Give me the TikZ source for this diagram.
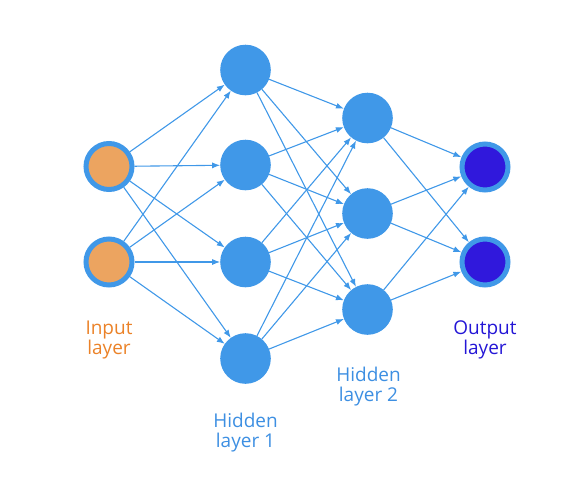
\documentclass[tikz,border=0pt]{standalone}
\usepackage{fontspec}
\setmainfont{Open Sans}
\usetikzlibrary{arrows.meta}
\definecolor{nodeblue}{RGB}{64,152,232}
\definecolor{inorange}{RGB}{236,164,96}
\definecolor{outfill}{RGB}{48,24,220}
\definecolor{intext}{RGB}{235,130,40}
\definecolor{outtext}{RGB}{36,22,214}
\definecolor{hidtext}{RGB}{61,143,226}
\tikzset{
  hid/.style={circle,fill=nodeblue,inner sep=0pt,minimum size=50.6pt,outer sep=0pt},
  inp/.style={circle,fill=inorange,draw=nodeblue,line width=5pt,inner sep=0pt,minimum size=46pt},
  outp/.style={circle,fill=outfill,draw=nodeblue,line width=5pt,inner sep=0pt,minimum size=46pt},
  conn/.style={draw=nodeblue,line width=1.1pt,-{Latex[length=8pt,width=6pt]}},
  lab/.style={align=center,anchor=base,font=\fontsize{19}{20}\selectfont,inner sep=0pt}
}
\begin{document}
\begin{tikzpicture}[x=1pt,y=-1pt]
\useasboundingbox (0,0) rectangle (581,496);
\node[inp] (i1) at (109,166.5) {};
\node[inp] (i2) at (109,262) {};
\node[hid] (h1) at (245.5,70) {};
\node[hid] (h2) at (245.5,165) {};
\node[hid] (h3) at (245.5,262) {};
\node[hid] (h4) at (245.5,358.5) {};
\node[hid] (g1) at (367.5,118) {};
\node[hid] (g2) at (367.5,213.5) {};
\node[hid] (g3) at (367.5,309.5) {};
\node[outp] (o1) at (485,167) {};
\node[outp] (o2) at (485,262) {};
\foreach \a in {i1,i2}{\foreach \b in {h1,h2,h3,h4}{\draw[conn] (\a) -- (\b);}}
\foreach \a in {h1,h2,h3,h4}{\foreach \b in {g1,g2,g3}{\draw[conn] (\a) -- (\b);}}
\foreach \a in {g1,g2,g3}{\foreach \b in {o1,o2}{\draw[conn] (\a) -- (\b);}}
\node[lab,text=intext] (tin) at (109,354) {Input\\layer};
\node[lab,text=outtext] (tout) at (485,354) {Output\\layer};
\node[lab,text=hidtext] (th2) at (368.5,401) {Hidden\\layer 2};
\node[lab,text=hidtext] (th1) at (245.5,447) {Hidden\\layer 1};
\end{tikzpicture}
\end{document}
